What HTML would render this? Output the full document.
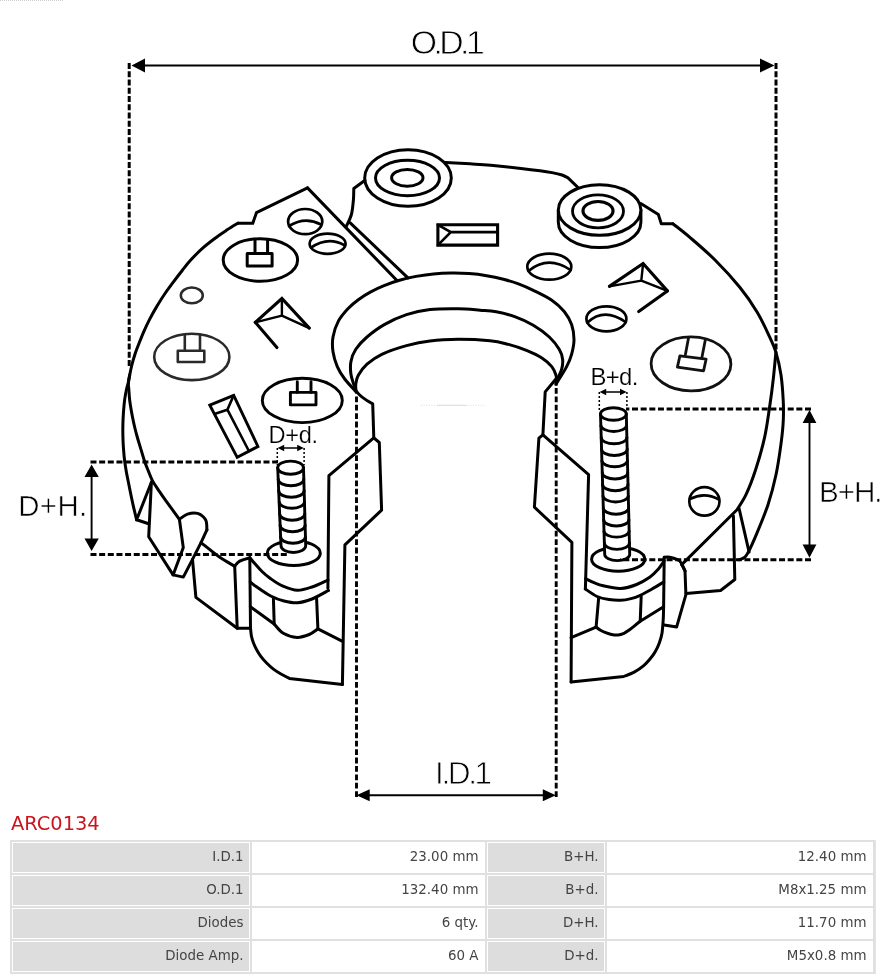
<!DOCTYPE html>
<html lang="en"><head><meta charset="utf-8"><title>ARC0134</title>
<style>
html,body{margin:0;padding:0;background:#fff;}
body{width:890px;height:979px;position:relative;overflow:hidden;font-family:"DejaVu Sans","Liberation Sans",sans-serif;}
#draw{position:absolute;left:0;top:0;width:890px;height:812px;display:block;filter:grayscale(1);}
#draw text{font-family:"Liberation Sans","DejaVu Sans",sans-serif;fill:#000;stroke:#fff;stroke-width:0.8px;}
#draw text.m{stroke-width:0.55px;}
#draw text.s{stroke-width:0.2px;}
h1{will-change:transform;position:absolute;left:11px;top:811.5px;margin:0;font-size:19.4px;line-height:24px;font-weight:normal;color:#c9151e;letter-spacing:0;}
table{filter:grayscale(1);position:absolute;left:10px;top:840px;width:865px;border-collapse:separate;border-spacing:2px;background:#e0e0e0;table-layout:fixed;border-right:1px solid #e4e4e4;}
td{padding:0 5.5px 3px 0;text-align:right;font-size:13.4px;color:#444;box-sizing:border-box;height:31px;white-space:nowrap;}
td.l{background:#dddddd;border:1px solid #fff;}
td.v{background:#fff;padding-right:6.5px;}
</style></head><body>
<svg id="draw" width="890" height="812" viewBox="0 0 890 812">
<g fill="none" stroke="#000" stroke-linecap="round" stroke-linejoin="round">
<path d="M307.5,187.9 L256.5,212.6 L252.8,223.2 L237.9,223.2" stroke-width="3.0" stroke-linejoin="miter"/>
<path d="M237.9,223.2 C236.1,224.3 230.7,227.5 226.8,230.1 C222.9,232.7 218.5,235.6 214.4,238.7 C210.3,241.8 206.1,245.0 202.1,248.6 C198.1,252.2 193.8,256.7 190.5,260.3 C187.2,263.9 185.5,266.3 182.6,270.0 C179.7,273.7 176.0,278.5 173.1,282.4 C170.2,286.3 167.8,289.4 165.0,293.5 C162.2,297.6 159.0,302.8 156.4,307.1 C153.8,311.4 151.7,315.3 149.6,319.4 C147.5,323.5 145.5,327.7 143.7,331.8 C141.9,335.9 140.1,340.6 138.7,344.2 C137.3,347.8 136.3,350.1 135.2,353.5 C134.1,356.9 132.9,360.9 132.0,364.5 C131.1,368.1 130.3,371.9 129.7,375.0 C129.1,378.1 128.6,380.7 128.4,383.0 C128.2,385.3 128.6,386.3 128.8,389.0 C129.0,391.7 129.2,395.6 129.6,399.4 C130.0,403.2 130.8,407.7 131.5,411.8 C132.2,415.9 133.1,420.1 134.0,424.2 C134.9,428.3 136.0,432.4 137.1,436.5 C138.2,440.6 139.6,444.8 140.8,448.9 C142.1,453.0 143.3,457.5 144.6,461.2 C145.8,464.9 147.0,467.7 148.3,470.9 C149.6,474.1 150.7,477.4 152.4,480.6 C154.1,483.8 156.4,487.0 158.6,490.3 C160.8,493.6 162.1,495.6 165.6,500.4 C169.1,505.2 177.1,516.1 179.4,519.3" stroke-width="3.0" />
<path d="M129.7,375.0 C129.4,376.3 128.7,380.7 128.2,383.0 C127.7,385.3 127.2,386.3 126.6,389.0 C126.0,391.7 125.2,395.6 124.7,399.4 C124.2,403.2 123.8,407.7 123.5,411.8 C123.2,415.9 123.0,420.1 122.9,424.2 C122.8,428.3 122.8,432.4 122.9,436.5 C123.0,440.6 123.2,444.8 123.5,448.9 C123.8,453.0 124.2,457.5 124.7,461.2 C125.2,464.9 125.5,466.9 126.2,470.9 C126.9,474.9 127.9,479.7 129.0,485.3 C130.1,490.9 131.7,498.9 133.0,504.6 C134.3,510.4 136.0,517.3 136.6,519.8" stroke-width="3.0" />
<path d="M151.2,482.8 L136.6,519.8 L148.7,523.7" stroke-width="3.0" />
<path d="M151.4,482.0 L148.7,536.7 L173.1,574.9 L183.3,577.1 L192.5,559.4 L201.0,542.6 L206.9,529.9" stroke-width="3.0" />
<path d="M206.9,529.9 C206.7,528.2 207.2,522.5 205.6,519.8 C204.0,517.0 200.6,514.3 197.6,513.4 C194.6,512.5 190.5,513.1 187.5,514.1 C184.5,515.1 180.8,518.4 179.4,519.3" stroke-width="3.0" />
<path d="M179.4,519.3 L183.3,547.6 L173.1,574.9" stroke-width="3.0" />
<path d="M201.0,542.6 C204.1,545.0 214.2,553.4 219.8,557.3 C225.4,561.2 232.2,564.7 234.7,566.2" stroke-width="3.0" />
<path d="M234.7,566.2 C235.5,565.4 237.2,562.5 239.7,561.1 C242.2,559.7 248.1,558.3 249.8,557.8" stroke-width="3.0" />
<path d="M192.5,559.4 L195.9,597.4 L237.2,628.3 L250.5,628.3" stroke-width="3.0" />
<path d="M234.7,566.2 L237.2,628.3" stroke-width="3.0" />
<path d="M249.8,557.8 L250.5,628.3" stroke-width="3.0" />
<path d="M249.8,557.8 C250.7,558.8 253.0,561.5 255.0,563.8 C257.0,566.1 259.4,569.0 262.0,571.5 C264.6,574.0 267.2,576.2 270.7,578.7 C274.2,581.2 278.5,584.3 283.0,586.2 C287.5,588.1 292.7,590.2 297.5,590.3 C302.3,590.4 306.9,588.7 312.0,587.0 C317.1,585.3 325.3,581.2 328.0,580.0" stroke-width="3.0" />
<path d="M250.3,582.0 C251.1,582.6 251.6,583.4 255.0,585.7 C258.4,588.0 265.9,593.5 270.7,596.0 C275.5,598.5 279.5,599.9 284.0,601.0 C288.5,602.1 292.8,603.1 297.5,602.8 C302.2,602.5 306.8,601.0 312.0,599.0 C317.2,597.0 325.8,591.9 328.5,590.5" stroke-width="3.0" />
<path d="M273.4,598.0 L274.2,624.0" stroke-width="3.0" />
<path d="M274.2,624.0 C275.7,625.5 279.5,631.1 283.3,633.3 C287.1,635.5 292.6,637.2 296.9,637.4 C301.2,637.6 305.7,635.9 309.2,634.5 C312.7,633.1 316.4,629.8 317.9,628.9" stroke-width="3.0" />
<path d="M316.6,598.7 L317.9,628.9 L342.6,641.3" stroke-width="3.0" />
<path d="M250.4,606.7 L274.2,624.0" stroke-width="3.0" />
<path d="M250.5,628.3 C250.7,629.6 250.9,633.5 251.4,636.0 C251.9,638.5 252.7,640.9 253.6,643.2 C254.5,645.5 255.6,647.8 256.8,650.0 C258.0,652.2 259.4,654.5 261.0,656.7 C262.6,658.9 264.5,660.9 266.6,663.0 C268.7,665.1 271.0,667.3 273.4,669.1 C275.8,670.9 278.3,672.5 281.0,674.0 C283.7,675.5 288.0,677.7 289.4,678.4 L342.4,684.6" stroke-width="3.0" />
<path d="M356.2,391 Q360.5,397.5 372.7,403.8 L373.8,437.8 L379.3,442.5 L381.6,510.2 L344.9,544.8 L342.4,684.6" stroke-width="3.0" />
<path d="M373.8,437.8 L328.9,475.6 L327.9,588.5" stroke-width="3.0" />
<path d="M355.8,391.4 C353.9,389.3 347.8,383.1 344.7,379.0 C341.6,374.9 339.2,371.1 337.3,366.6 C335.4,362.1 333.7,356.7 333.0,351.8 C332.3,346.9 332.1,342.1 333.0,337.0 C333.9,331.9 335.9,325.7 338.5,320.9 C341.1,316.1 345.1,311.8 348.4,308.2 C351.7,304.7 354.7,302.4 358.3,299.7 C362.0,297.0 366.0,294.4 370.3,292.1 C374.6,289.7 379.3,287.5 384.1,285.6 C389.0,283.6 394.2,281.8 399.5,280.3 C404.8,278.8 410.4,277.5 416.0,276.4 C421.7,275.4 427.5,274.5 433.4,274.0 C439.3,273.4 445.3,273.1 451.2,273.0 C457.2,272.9 463.2,273.1 469.1,273.6 C475.0,274.0 480.9,274.7 486.6,275.7 C492.3,276.6 498.0,277.8 503.4,279.2 C508.8,280.6 514.1,282.3 519.1,284.1 C524.1,286.0 527.9,287.6 533.3,290.3 C538.8,293.0 546.7,296.7 551.8,300.2 C556.9,303.7 560.9,307.4 564.2,311.5 C567.5,315.6 570.0,320.0 571.6,324.6 C573.2,329.2 574.0,334.4 574.0,339.4 C574.0,344.3 572.8,349.8 571.6,354.3 C570.4,358.8 568.7,362.5 566.6,366.6 C564.5,370.7 561.0,376.1 559.2,379.0 C557.4,381.9 556.5,383.4 556.0,384.3" stroke-width="3.0" />
<path d="M355.8,391.0 C355.5,390.0 354.8,388.0 354.0,385.2 C353.2,382.4 351.4,377.9 350.9,374.0 C350.4,370.1 350.1,365.8 350.9,361.7 C351.7,357.6 353.1,353.4 355.8,349.3 C358.5,345.2 362.2,341.1 367.0,337.0 C371.8,332.9 377.7,328.3 384.3,324.6 C390.9,320.9 398.9,317.2 406.5,314.7 C414.1,312.2 421.4,310.6 430.0,309.6 C438.6,308.6 450.1,308.7 458.4,308.8 C466.7,308.9 473.7,309.7 480.0,310.2 C486.3,310.7 490.4,310.7 496.2,311.8 C502.0,312.9 508.5,314.4 514.7,316.6 C520.9,318.8 527.5,321.8 533.3,325.2 C539.1,328.6 545.0,333.0 549.3,337.0 C553.6,341.0 557.0,345.6 559.2,349.3 C561.4,353.0 562.2,355.9 562.6,359.2 C563.0,362.5 562.5,366.0 561.7,369.1 C560.9,372.2 559.0,375.5 558.0,377.8 C557.0,380.1 556.3,382.1 556.0,383.0" stroke-width="3.0" />
<path d="M356.0,390.5 C356.0,389.4 355.4,386.5 355.8,384.0 C356.2,381.5 356.4,378.6 358.3,375.3 C360.2,372.0 363.1,367.7 367.0,364.2 C370.9,360.7 375.2,357.4 381.8,354.3 C388.4,351.2 398.5,347.8 406.5,345.6 C414.5,343.4 421.4,341.9 430.0,340.9 C438.6,339.8 448.4,339.3 458.4,339.3 C468.4,339.3 481.6,339.9 490.0,340.7 C498.4,341.5 502.3,342.8 508.5,344.4 C514.7,346.0 521.5,348.3 527.1,350.6 C532.7,352.9 537.8,355.3 541.9,358.0 C546.0,360.7 549.4,363.7 551.8,366.6 C554.1,369.5 555.2,372.8 556.0,375.3 C556.8,377.8 556.5,380.5 556.6,381.5" stroke-width="3.0" />
<path d="M364.7,180.5 L353.8,188.5  C353.7,190.4 353.8,195.7 353.4,200.0 C353.0,204.3 352.6,210.1 351.4,214.5 C350.2,218.9 347.1,224.6 346.2,226.6" stroke-width="3.0" />
<path d="M350.2,222.8 L407.9,277.9" stroke-width="3.0" />
<path d="M307.5,187.9 L396.7,280.2" stroke-width="3.0" />
<path d="M445.8,162.4 C449.8,162.6 462.5,163.3 470.0,163.8 C477.5,164.3 482.2,164.5 490.7,165.3 C499.2,166.1 512.8,167.5 521.0,168.4 C529.2,169.3 534.8,170.0 540.0,170.7 C545.2,171.4 548.3,171.9 552.0,172.6 C555.7,173.3 559.3,174.1 562.0,175.0 C564.7,175.9 567.0,177.3 568.0,177.8 L578.5,188" stroke-width="3.0" />
<path d="M640.8,203.5 L658.4,214.6 L661.3,223.8 L673.0,223.8" stroke-width="3.0" />
<path d="M673.0,223.8 C675.8,226.1 682.9,231.4 689.9,237.4 C696.9,243.4 706.5,251.5 714.8,259.8 C723.1,268.1 732.7,278.6 739.8,287.3 C746.9,296.0 752.2,303.9 757.2,312.2 C762.2,320.5 766.6,330.5 769.7,337.1 C772.8,343.8 774.0,345.8 775.9,352.1 C777.8,358.4 779.8,367.0 781.0,375.0 C782.2,383.0 782.8,392.5 783.2,400.0 C783.6,407.5 783.6,412.9 783.3,420.0 C783.0,427.1 782.4,433.3 781.2,442.4 C780.0,451.5 778.2,464.4 776.0,474.8 C773.8,485.2 771.3,494.7 768.0,504.7 C764.7,514.7 759.6,526.7 756.3,534.6 C753.0,542.5 750.3,548.3 748.3,552.1 C746.3,555.9 746.0,556.2 744.5,557.5 C743.0,558.8 739.9,559.4 739.0,559.8" stroke-width="3.0" />
<path d="M775.9,352.1 C775.5,356.4 774.4,368.9 773.4,378.0 C772.4,387.1 771.1,397.1 769.6,407.0 C768.1,416.9 766.9,426.9 764.6,437.4 C762.3,447.9 758.7,460.2 755.6,469.8 C752.5,479.4 749.1,488.1 746.0,494.7 C742.9,501.3 738.5,507.2 737.0,509.7 L681.7,564.6" stroke-width="3.0" />
<path d="M739.1,508.5 L749.1,552.1" stroke-width="3.0" />
<path d="M733.4,516.0 L734.8,579.5 L720.6,590.5 L686.0,593.5" stroke-width="3.0" />
<path d="M681.7,564.6 L685.0,570.8 L685.9,594.7 L676.6,627.1 L664.2,625.1" stroke-width="3.0" />
<path d="M664.2,557.3 C665.1,557.3 667.1,556.7 669.7,557.3 C672.3,557.9 677.0,558.7 679.6,561.0 C682.2,563.3 684.2,569.3 685.1,571.0" stroke-width="3.0" />
<path d="M664.2,557.3 L663.6,608.0 C663.5,610.0 663.5,615.8 663.2,620.0 C662.9,624.2 662.6,629.4 662.0,633.2 C661.4,637.0 660.4,639.9 659.3,643.0 C658.2,646.1 656.8,649.0 655.2,651.7 C653.7,654.4 651.9,656.7 650.0,659.0 C648.1,661.3 646.6,663.1 644.0,665.3 C641.4,667.5 637.6,670.2 634.2,672.1 C630.8,674.0 625.5,675.7 623.7,676.4 L571.1,682" stroke-width="3.0" />
<path d="M556.1,378.7 L545.2,391.9 L542.9,434.8 L538.9,438.2 L534.4,507.2 L571.9,542.3 L571.1,682.0" stroke-width="3.0" />
<path d="M542.9,434.8 L588.6,474.7 L585.4,588.5" stroke-width="3.0" />
<path d="M585.6,578.6 C587.0,579.3 591.0,581.4 594.0,582.6 C597.0,583.8 598.9,584.8 603.3,585.8 C607.7,586.8 615.0,588.6 620.6,588.4 C626.2,588.2 631.8,586.4 636.6,584.5 C641.5,582.6 646.1,579.8 649.7,577.3 C653.3,574.8 655.6,572.2 658.0,569.5 C660.4,566.8 663.2,562.4 664.2,561.0" stroke-width="3.0" />
<path d="M585.2,588.9 C587.2,590.2 593.1,594.7 597.1,596.5 C601.1,598.3 605.1,599.0 609.0,599.6 C612.9,600.2 616.9,600.5 620.6,600.3 C624.3,600.1 627.7,599.4 631.0,598.6 C634.3,597.8 636.8,596.9 640.3,595.3 C643.8,593.7 648.1,591.2 652.0,589.0 C655.9,586.8 661.8,583.2 663.8,582.0" stroke-width="3.0" />
<path d="M598.6,598.5 L596.1,627.1" stroke-width="3.0" />
<path d="M595.9,627.1 C596.7,627.6 598.9,629.4 600.5,630.3 C602.1,631.2 603.9,632.0 605.7,632.7 C607.5,633.4 609.4,634.1 611.5,634.5 C613.6,634.9 616.0,635.2 618.1,635.0 C620.2,634.8 622.1,634.1 624.0,633.3 C625.9,632.5 627.4,631.3 629.2,630.0 C631.0,628.7 633.0,627.1 634.8,625.6 C636.6,624.1 639.3,621.9 640.2,621.2" stroke-width="3.0" />
<path d="M641.2,596.5 L640.2,621.2 L663.6,606.8" stroke-width="3.0" />
<path d="M571.1,637.6 L596.1,627.1" stroke-width="3.0" />
<ellipse cx="408" cy="178" rx="43.3" ry="28.3" stroke-width="3" />
<ellipse cx="407.5" cy="178" rx="32" ry="17.7" stroke-width="3" />
<ellipse cx="407.3" cy="177.8" rx="15.7" ry="8.4" stroke-width="3" />
<path d="M558.3,210.0 L558.3,222.3 A41.3,25.3 0 0 0 640.9,222.3 L640.9,210.0" stroke-width="3.0" fill="#fff"/>
<ellipse cx="599.6" cy="210" rx="41.3" ry="25.3" stroke-width="3.0" fill="#fff"/>
<ellipse cx="598" cy="211.3" rx="25.5" ry="16.5" stroke-width="2.8" />
<ellipse cx="598" cy="210.9" rx="15" ry="9.4" stroke-width="3.2" />
<ellipse cx="260.4" cy="260" rx="37.2" ry="21.3" stroke-width="3.0" stroke="#000"/>
<path d="M255.0,240.5 L255.0,253.5 M267.6,240.5 L267.6,253.5" stroke-width="3.0" stroke="#000"/>
<path d="M247.2,253.5 L272.1,253.5 L272.1,266.0 L247.2,266.0Z" stroke-width="3.0" stroke="#000"/>
<ellipse cx="191.8" cy="356.9" rx="37.6" ry="23.2" stroke-width="2.6" stroke="#2a2a2a"/>
<path d="M184.8,334.5 L184.8,350.8 M200.0,334.5 L200.0,350.8" stroke-width="2.6" stroke="#2a2a2a"/>
<path d="M177.8,350.8 L204.3,350.8 L204.3,362.0 L177.8,362.0Z" stroke-width="2.6" stroke="#2a2a2a"/>
<ellipse cx="302.3" cy="400.4" rx="40" ry="22.2" stroke-width="2.9" stroke="#000"/>
<path d="M297.3,381.8 L297.3,392.4 M311.0,381.8 L311.0,392.4" stroke-width="2.9" stroke="#000"/>
<path d="M290.4,392.4 L316.0,392.4 L316.0,404.9 L290.4,404.9Z" stroke-width="2.9" stroke="#000"/>
<ellipse cx="691" cy="363.9" rx="39.9" ry="27" stroke-width="2.8" transform="rotate(0.5 691 363.9)" stroke="#111"/>
<path d="M688.6,337.6 L685.4,354.6 M705.4,339.6 L701.9,357.6" stroke-width="2.8" stroke="#111"/>
<path d="M679.9,355.9 L706.1,359.1 L703.6,370.8 L677.4,367.1Z" stroke-width="2.8" stroke="#111"/>
<ellipse cx="191.8" cy="295.4" rx="11" ry="7.8" stroke-width="2.5" stroke="#2a2a2a"/>
<ellipse cx="305.2" cy="221.6" rx="17.1" ry="12.6" stroke-width="2.7" />
<path d="M289.0,226.0 Q305.0,216.0 321.0,224.5" stroke-width="2.7" />
<ellipse cx="327.6" cy="243.8" rx="18" ry="10.1" stroke-width="2.7" />
<path d="M311.0,247.6 Q328.0,236.0 344.0,245.0" stroke-width="2.7" />
<ellipse cx="549.3" cy="266.7" rx="22" ry="13" stroke-width="2.7" />
<path d="M528.5,271.0 Q548.0,255.0 570.5,270.0" stroke-width="2.7" />
<ellipse cx="606.4" cy="318.8" rx="20" ry="12.5" stroke-width="2.7" />
<path d="M587.5,322.5 Q604.0,307.0 625.5,322.0" stroke-width="2.7" />
<ellipse cx="704.4" cy="501.4" rx="15.1" ry="14.2" stroke-width="2.7" />
<path d="M689.8,499.0 Q704.5,491.3 719.0,499.5" stroke-width="2.7" />
<path d="M255.3,322.3 L281.9,298.5 L309.3,328.1" stroke-width="3.1" stroke-linejoin="miter"/>
<path d="M255.3,322.3 L281.9,315.6 L309.3,328.1 M281.9,298.5 L281.9,315.6" stroke-width="2.4" />
<path d="M255.3,322.3 L276.9,347.5" stroke-width="3.1" />
<path d="M609.4,286.4 L643.1,263.5 L667.4,290.9" stroke-width="3.1" stroke-linejoin="miter"/>
<path d="M609.4,286.4 L641.3,280.6 L667.4,290.9 M643.1,263.5 L641.3,280.6" stroke-width="2.4" />
<path d="M667.4,290.9 L638.7,311.6" stroke-width="3.1" />
<path d="M437.9,224.8 H497.6 V245.1 H437.9 Z" stroke-width="3.1" stroke-linejoin="miter"/>
<path d="M450.8,232.1 H497.6 M437.9,224.8 L450.8,232.1 L437.9,245.1" stroke-width="2.7" />
<path d="M209.8,405.2 L233.7,395.3 L257.9,446.5 L237.2,457.3Z" stroke-width="2.9" stroke-linejoin="miter"/>
<path d="M233.7,395.3 L227.4,409.7 L215.2,413.7 M227.4,409.7 L248.9,451" stroke-width="2.6" />
<ellipse cx="293.8" cy="553.2" rx="26.5" ry="12.3" stroke-width="3.0" fill="#fff"/>
<path d="M277.7,467.7 L281.0,545.8 A12.3,6.6 0 0 0 305.7,545.8 L303.5,467.7" stroke-width="2.9" fill="#fff"/>
<ellipse cx="290.6" cy="467.7" rx="12.9" ry="6.6" stroke-width="2.9" fill="#fff"/>
<path d="M278.2,479.2 A12.8,6.6 0 0 0 303.8,479.2" stroke-width="2.9" />
<path d="M278.7,490.7 A12.7,6.6 0 0 0 304.1,490.7" stroke-width="2.9" />
<path d="M279.2,502.2 A12.7,6.6 0 0 0 304.5,502.2" stroke-width="2.9" />
<path d="M279.6,513.7 A12.6,6.6 0 0 0 304.8,513.7" stroke-width="2.9" />
<path d="M280.1,525.2 A12.5,6.6 0 0 0 305.1,525.2" stroke-width="2.9" />
<path d="M280.6,536.7 A12.4,6.6 0 0 0 305.4,536.7" stroke-width="2.9" />
<ellipse cx="618.2" cy="559.2" rx="26.6" ry="12" stroke-width="3.0" fill="#fff"/>
<path d="M600.5,414.0 L604.7,554.3 A12.5,6.3 0 0 0 629.7,554.3 L626.3,414.0" stroke-width="2.9" fill="#fff"/>
<ellipse cx="613.4" cy="414" rx="12.9" ry="6.3" stroke-width="2.9" fill="#fff"/>
<path d="M600.9,425.7 A12.9,6.3 0 0 0 626.6,425.7" stroke-width="2.9" />
<path d="M601.2,437.5 A12.8,6.3 0 0 0 626.9,437.5" stroke-width="2.9" />
<path d="M601.6,449.2 A12.8,6.3 0 0 0 627.2,449.2" stroke-width="2.9" />
<path d="M601.9,461.0 A12.8,6.3 0 0 0 627.4,461.0" stroke-width="2.9" />
<path d="M602.3,472.7 A12.7,6.3 0 0 0 627.7,472.7" stroke-width="2.9" />
<path d="M602.6,484.4 A12.7,6.3 0 0 0 628.0,484.4" stroke-width="2.9" />
<path d="M603.0,496.2 A12.7,6.3 0 0 0 628.3,496.2" stroke-width="2.9" />
<path d="M603.3,507.9 A12.6,6.3 0 0 0 628.6,507.9" stroke-width="2.9" />
<path d="M603.7,519.7 A12.6,6.3 0 0 0 628.9,519.7" stroke-width="2.9" />
<path d="M604.0,531.4 A12.6,6.3 0 0 0 629.1,531.4" stroke-width="2.9" />
<path d="M604.4,543.1 A12.5,6.3 0 0 0 629.4,543.1" stroke-width="2.9" />
</g>
<g fill="none" stroke="#000">
<path d="M129.2,63 V366 M776,63 V350" stroke-width="3" stroke-dasharray="6 2.25"/>
<path d="M356.5,797 V392 M556.2,797 V381" stroke-width="2.9" stroke-dasharray="5.8 2.6"/>
<path d="M90.5,461.9 H278 M90.5,554.5 H288" stroke-width="3" stroke-dasharray="6 2.65"/>
<path d="M811,409 H626 M811,559.8 H620" stroke-width="3" stroke-dasharray="6 2.65"/>
<path d="M140,65.5 H765" stroke-width="2"/>
<path d="M131.5,65.5 L145,58.6 V72.4Z M774.5,65.5 L760,58.6 V72.4Z" fill="#000" stroke="none"/>
<path d="M365,795.2 H548" stroke-width="2"/>
<path d="M356.5,795.2 L369.7,789.2 V801.2Z M555.8,795.2 L542.8,789.2 V801.2Z" fill="#000" stroke="none"/>
<path d="M91.6,472 V544" stroke-width="1.9"/>
<path d="M91.6,464.5 L84.5,477 H98.8Z M91.6,551 L84.5,538.5 H98.8Z" fill="#000" stroke="none"/>
<path d="M809.5,420 V548" stroke-width="1.9"/>
<path d="M809.5,410 L802.6,423 H816.4Z M809.5,557.8 L802.6,544.6 H816.4Z" fill="#000" stroke="none"/>
<path d="M277.3,448 V465 M304.1,448 V465 M599.3,392 V411 M626.9,392 V411" stroke-width="1.5" stroke-dasharray="2 2"/>
<path d="M281,448 H300.5 M603,392 H623" stroke-width="1.3"/>
<path d="M277.6,448 L284.2,444.8 V451.2Z M303.8,448 L297.2,444.8 V451.2Z M599.6,392 L606.2,388.8 V395.2Z M626.6,392 L620,388.8 V395.2Z" fill="#000" stroke="none"/>
<path d="M0,0.5 H64" stroke="#cfcfcf" stroke-width="1" stroke-dasharray="1 1"/>
<path d="M421,405.3 H485" stroke="#d2d2d2" stroke-width="0.8" stroke-dasharray="1 1.6"/>
<path d="M437,405.3 H467" stroke="#d8d8d8" stroke-width="0.8"/>
</g>
<g opacity="0.999">
<text x="447.7" y="54.0" font-size="33.8" textLength="74" lengthAdjust="spacing" text-anchor="middle">O.D.1</text>
<text x="463.6" y="783.6" font-size="31.6" textLength="57" lengthAdjust="spacing" text-anchor="middle">I.D.1</text>
<text class="m" x="52.7" y="516.2" font-size="29.4" textLength="69" lengthAdjust="spacing" text-anchor="middle">D+H.</text>
<text class="m" x="850.7" y="502.0" font-size="29.6" textLength="63.5" lengthAdjust="spacing" text-anchor="middle">B+H.</text>
<text class="s" x="293.3" y="443.2" font-size="23.6" textLength="49.5" lengthAdjust="spacing" text-anchor="middle">D+d.</text>
<text class="s" x="614.4" y="385.0" font-size="23.9" textLength="48" lengthAdjust="spacing" text-anchor="middle">B+d.</text>
</g>
</svg>
<h1>ARC0134</h1>
<table><colgroup><col style="width:238px"><col style="width:233px"><col style="width:118px"><col style="width:266px"></colgroup>
<tr><td class="l">I.D.1</td><td class="v">23.00 mm</td><td class="l">B+H.</td><td class="v">12.40 mm</td></tr>
<tr><td class="l">O.D.1</td><td class="v">132.40 mm</td><td class="l">B+d.</td><td class="v">M8x1.25 mm</td></tr>
<tr><td class="l">Diodes</td><td class="v">6 qty.</td><td class="l">D+H.</td><td class="v">11.70 mm</td></tr>
<tr><td class="l">Diode Amp.</td><td class="v">60 A</td><td class="l">D+d.</td><td class="v">M5x0.8 mm</td></tr>
</table>
</body></html>
